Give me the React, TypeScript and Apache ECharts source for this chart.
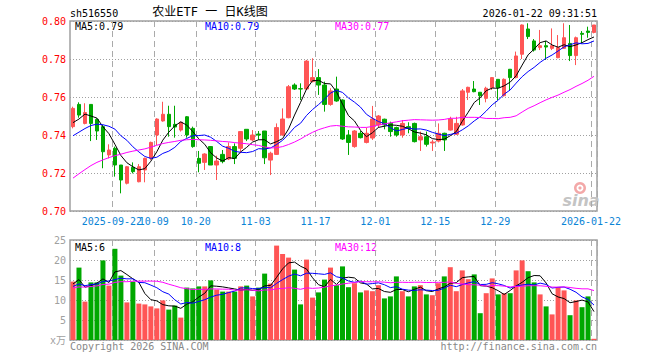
import React, { useEffect, useRef } from "react";
import * as echarts from "echarts";

// ---- data ----
const dates = [
  "2025-09-11","2025-09-12","2025-09-15","2025-09-16","2025-09-17","2025-09-18","2025-09-19",
  "2025-09-22","2025-09-23","2025-09-24","2025-09-25","2025-09-26","2025-09-29","2025-09-30",
  "2025-10-09","2025-10-10","2025-10-13","2025-10-14","2025-10-15","2025-10-16","2025-10-17",
  "2025-10-20","2025-10-21","2025-10-22","2025-10-23","2025-10-24","2025-10-27","2025-10-28",
  "2025-10-29","2025-10-30","2025-10-31",
  "2025-11-03","2025-11-04","2025-11-05","2025-11-06","2025-11-07","2025-11-10","2025-11-11",
  "2025-11-12","2025-11-13","2025-11-14","2025-11-17","2025-11-18","2025-11-19","2025-11-20",
  "2025-11-21","2025-11-24","2025-11-25","2025-11-26","2025-11-27","2025-11-28",
  "2025-12-01","2025-12-02","2025-12-03","2025-12-04","2025-12-05","2025-12-08","2025-12-09",
  "2025-12-10","2025-12-11","2025-12-12","2025-12-15","2025-12-16","2025-12-17","2025-12-18",
  "2025-12-19","2025-12-22","2025-12-23","2025-12-24","2025-12-25","2025-12-26","2025-12-29",
  "2025-12-30","2025-12-31",
  "2026-01-05","2026-01-06","2026-01-07","2026-01-08","2026-01-09","2026-01-12","2026-01-13",
  "2026-01-14","2026-01-15","2026-01-16","2026-01-19","2026-01-20","2026-01-21","2026-01-22",
];

const opens = [
  0.7444,0.7561,0.7461,0.7561,0.7482,0.7444,0.7295,0.7330,0.7242,0.7146,
  0.7230,0.7154,0.7216,0.7277,0.7400,0.7474,0.7509,0.7456,0.7426,0.7496,
  0.7435,0.7277,0.7256,0.7339,0.7242,0.7298,0.7274,0.7339,0.7330,0.7430,
  0.7374,0.7405,0.7421,0.7268,0.7298,0.7400,0.7491,0.7663,0.7644,0.7642,
  0.7681,0.7702,0.7663,0.7561,0.7642,0.7584,0.7400,0.7339,0.7409,0.7361,
  0.7384,0.7453,0.7483,0.7461,0.7439,0.7400,0.7444,0.7461,0.7374,0.7391,
  0.7358,0.7368,0.7409,0.7426,0.7404,0.7453,0.7625,0.7642,0.7625,0.7593,
  0.7649,0.7693,0.7607,0.7746,0.7702,0.7825,0.7958,0.7895,0.7860,0.7870,
  0.7856,0.7807,0.7856,0.7882,0.7818,0.7935,0.7947,0.7940,
];
const closes = [
  0.7540,0.7505,0.7518,0.7461,0.7421,0.7312,0.7321,0.7242,0.7163,0.7233,
  0.7207,0.7233,0.7277,0.7361,0.7484,0.7509,0.7444,0.7442,0.7467,0.7400,
  0.7339,0.7251,0.7300,0.7242,0.7263,0.7260,0.7339,0.7277,0.7418,0.7379,
  0.7400,0.7400,0.7280,0.7304,0.7439,0.7484,0.7654,0.7642,0.7642,0.7789,
  0.7702,0.7663,0.7561,0.7632,0.7579,0.7379,0.7361,0.7421,0.7386,0.7409,
  0.7484,0.7500,0.7453,0.7418,0.7400,0.7461,0.7435,0.7365,0.7391,0.7351,
  0.7363,0.7409,0.7374,0.7484,0.7461,0.7632,0.7651,0.7628,0.7607,0.7646,
  0.7702,0.7649,0.7693,0.7702,0.7816,0.7979,0.7918,0.7847,0.7870,0.7863,
  0.7870,0.7860,0.7912,0.7818,0.7912,0.7930,0.7940,0.7979,
];
const lows = [
  0.7435,0.7491,0.7456,0.7368,0.7374,0.7225,0.7277,0.7181,0.7093,0.7140,
  0.7198,0.7151,0.7151,0.7268,0.7347,0.7470,0.7391,0.7386,0.7418,0.7386,
  0.7333,0.7204,0.7216,0.7242,0.7163,0.7251,0.7268,0.7247,0.7304,0.7368,
  0.7368,0.7374,0.7247,0.7189,0.7295,0.7396,0.7488,0.7637,0.7584,0.7637,
  0.7677,0.7611,0.7523,0.7554,0.7575,0.7374,0.7295,0.7333,0.7382,0.7356,
  0.7374,0.7437,0.7430,0.7391,0.7391,0.7386,0.7409,0.7361,0.7316,0.7339,
  0.7316,0.7361,0.7316,0.7423,0.7400,0.7449,0.7584,0.7625,0.7558,0.7572,
  0.7637,0.7584,0.7602,0.7632,0.7698,0.7800,0.7905,0.7839,0.7847,0.7795,
  0.7847,0.7804,0.7853,0.7789,0.7768,0.7882,0.7912,0.7935,
];
const highs = [
  0.7549,0.7572,0.7567,0.7561,0.7488,0.7453,0.7351,0.7339,0.7242,0.7237,
  0.7256,0.7247,0.7281,0.7365,0.7488,0.7575,0.7554,0.7554,0.7470,0.7500,
  0.7444,0.7316,0.7304,0.7342,0.7291,0.7321,0.7361,0.7356,0.7421,0.7430,
  0.7426,0.7421,0.7421,0.7312,0.7461,0.7540,0.7663,0.7672,0.7672,0.7795,
  0.7804,0.7747,0.7681,0.7646,0.7707,0.7588,0.7426,0.7426,0.7421,0.7439,
  0.7553,0.7505,0.7486,0.7470,0.7444,0.7479,0.7467,0.7465,0.7418,0.7418,
  0.7374,0.7461,0.7412,0.7496,0.7496,0.7642,0.7654,0.7684,0.7625,0.7654,
  0.7705,0.7693,0.7698,0.7746,0.7839,0.7982,0.7988,0.7905,0.7953,0.7895,
  0.7961,0.7926,0.7988,0.7979,0.7918,0.7947,0.7970,0.7979,
];
// volume, in 万
const volumes = [
  14.6,18.1,9.6,14.4,14.4,19.9,13.6,22.8,16.1,9.4,
  14.6,9.1,8.9,8.4,7.9,9.9,7.6,8.6,5.6,13.1,
  12.9,13.4,13.4,14.9,12.6,12.1,12.1,12.1,13.4,13.6,
  10.9,13.1,16.6,14.1,23.6,21.5,20.6,17.6,8.9,20.1,
  10.6,11.9,15.1,18.1,13.7,18.4,13.2,14.2,11.9,12.4,
  12.2,13.7,10.4,10.9,15.9,12.2,10.9,13.4,13.7,11.4,
  11.2,14.2,15.9,18.2,12.2,17.4,15.2,16.4,6.7,11.7,
  15.4,11.4,11.7,11.7,17.4,19.9,17.2,14.4,11.4,8.4,
  6.4,13.2,12.4,6.2,9.9,8.2,10.9,0.3,
];
// estimated sessions before the visible window (only feed the moving averages)
const priorCloses = [
  0.683,0.685,0.684,0.690,0.693,0.695,0.694,0.692,0.696,0.702,
  0.705,0.708,0.710,0.718,0.724,0.727,0.728,0.730,0.731,0.729,
  0.731,0.733,0.730,0.735,0.734,0.741,0.739,0.7511,0.7476,
];
const priorVolumes = [
  10,11,9.5,10.5,9,11,10,10.5,9.8,10.7,
  8.5,9,8,8.9,18,22,21,19.5,20.1,19,
  12,14,11.5,13,13.5,12.6,19.1,12.7,11,
];

const tickIndices = [7, 14, 21, 31, 41, 51, 61, 71, 87];
const fullDateTicks = [7, 87];
const priceLegend = ["MA5:0.79", "MA10:0.79", "MA30:0.77"];
const volLegend = ["MA5:6", "MA10:8", "MA30:12"];
const maPeriods = [5, 10, 30];
const maColors = ["#000000", "#0000ff", "#ff00ff"];

const UP = "#ff5555";
const DOWN = "#00a800";
const MONO = "DejaVu Sans Mono, Noto Sans CJK SC";

function movingAverage(values: number[], prior: number[], n: number) {
  const all = prior.concat(values);
  const off = prior.length;
  return values.map((_, i) => {
    const end = off + i;
    const start = Math.max(0, end - n + 1);
    let s = 0;
    for (let k = start; k <= end; k++) s += all[k];
    return +(s / (end - start + 1)).toFixed(4);
  });
}

export default function App() {
  const ref = useRef<HTMLDivElement>(null);
  useEffect(() => {
    if (!ref.current) return;
    const chart = echarts.init(ref.current, null, { renderer: "svg" });
    const candles = dates.map((_, i) => [opens[i], closes[i], lows[i], highs[i]]);
    const volData = volumes.map((v, i) => ({
      value: v,
      itemStyle: { color: closes[i] >= opens[i] ? UP : DOWN },
    }));
    const isTick = (i: number) => tickIndices.includes(i);
    const splitLine = {
      show: true,
      interval: (i: number) => isTick(i),
      lineStyle: { color: "#aaaaaa", type: [6, 4], width: 1 },
    };
    const xBase = {
      type: "category",
      data: dates,
      boundaryGap: true,
      axisLine: { show: false },
      axisTick: { show: false },
      splitLine,
    };
    const labelStyle = {
      hideOverlap: false,
      formatter: (v: string, i: number) => (fullDateTicks.includes(i) ? v : v.slice(5)),
      color: "#0a84d6",
      fontFamily: MONO,
      fontSize: 10,
      margin: 5,
      padding: [0, 6, 0, 0],
    };
    const legendText = (labels: string[], y: number) =>
      labels.map((t, k) => ({
        type: "text",
        x: 75 + 130 * k,
        y,
        silent: true,
        style: {
          text: t,
          fill: maColors[k],
          fontSize: 10,
          fontFamily: MONO,
          textVerticalAlign: "middle",
        },
      }));

    const option: any = {
      animation: false,
      backgroundColor: "#ffffff",
      grid: [
        { left: 70, top: 21, width: 527, height: 190, show: true, borderColor: "#a0a0a0", borderWidth: 1.5 },
        { left: 70, top: 240, width: 527, height: 100, show: true, borderColor: "#a0a0a0", borderWidth: 1.5 },
      ],
      xAxis: [
        {
          ...xBase,
          gridIndex: 0,
          axisLabel: { ...labelStyle, interval: (i: number) => isTick(i) && i !== tickIndices[0] },
        },
        { ...xBase, gridIndex: 1, axisLabel: { show: false } },
        {
          ...xBase,
          gridIndex: 0,
          position: "bottom",
          splitLine: { show: false },
          axisLabel: { ...labelStyle, interval: (i: number) => i === tickIndices[0] },
        },
      ],
      yAxis: [
        {
          type: "value",
          gridIndex: 0,
          min: 0.7,
          max: 0.8,
          interval: 0.02,
          axisLine: { show: false },
          axisTick: { show: false },
          axisLabel: {
            color: "#ff0000",
            fontFamily: MONO,
            fontSize: 10,
            margin: 4,
            formatter: (v: number) => v.toFixed(2),
          },
          splitLine: { lineStyle: { color: "#a0a0a0", type: [1, 2], width: 1 } },
        },
        {
          type: "value",
          gridIndex: 1,
          min: 0,
          max: 25,
          interval: 5,
          axisLine: { show: false },
          axisTick: { show: false },
          axisLabel: {
            color: "#a0a0a0",
            fontFamily: MONO,
            fontSize: 10,
            margin: 4,
            formatter: (v: number) => (v === 0 ? "x万" : String(v)),
          },
          splitLine: { lineStyle: { color: "#a0a0a0", type: [1, 2], width: 1 } },
        },
      ],
      series: [
        {
          type: "candlestick",
          xAxisIndex: 0,
          yAxisIndex: 0,
          data: candles,
          barWidth: 4,
          silent: true,
          itemStyle: { color: UP, color0: DOWN, borderColor: UP, borderColor0: DOWN, borderWidth: 1 },
        },
        ...maPeriods.map((n, k) => ({
          type: "line",
          xAxisIndex: 0,
          yAxisIndex: 0,
          data: movingAverage(closes, priorCloses, n),
          showSymbol: false,
          silent: true,
          lineStyle: { color: maColors[k], width: 1 },
        })),
        {
          type: "bar",
          xAxisIndex: 1,
          yAxisIndex: 1,
          data: volData,
          barWidth: 5,
          silent: true,
        },
        ...maPeriods.map((n, k) => ({
          type: "line",
          xAxisIndex: 1,
          yAxisIndex: 1,
          data: movingAverage(volumes, priorVolumes, n),
          showSymbol: false,
          silent: true,
          lineStyle: { color: maColors[k], width: 1 },
        })),
      ],
      graphic: [
        { type: "text", x: 70, y: 13, silent: true, style: { text: "sh516550", fill: "#000", fontSize: 10, fontFamily: MONO, textVerticalAlign: "middle" } },
        { type: "text", x: 210, y: 12, silent: true, style: { text: "农业ETF 一 日K线图", fill: "#000", fontSize: 12, fontFamily: MONO, textAlign: "center", textVerticalAlign: "middle" } },
        { type: "text", x: 597, y: 13, silent: true, style: { text: "2026-01-22 09:31:51", fill: "#000", fontSize: 10, fontFamily: MONO, textAlign: "right", textVerticalAlign: "middle" } },
        ...legendText(priceLegend, 26),
        ...legendText(volLegend, 247),
        { type: "text", x: 70, y: 346, silent: true, style: { text: "Copyright 2026 SINA.COM", fill: "#888", fontSize: 10, fontFamily: MONO, textVerticalAlign: "middle" } },
        { type: "text", x: 597, y: 346, silent: true, style: { text: "http://finance.sina.com.cn", fill: "#888", fontSize: 10, fontFamily: MONO, textAlign: "right", textVerticalAlign: "middle" } },
        { type: "ring", silent: true, shape: { cx: 580, cy: 188, r: 6, r0: 3.5 }, style: { fill: "#f3a8a8" } },
        { type: "circle", silent: true, shape: { cx: 580, cy: 188, r: 1.6 }, style: { fill: "#f3a8a8" } },
        { type: "text", x: 581, y: 200, silent: true, style: { text: "sina", fill: "#c4c4c4", fontSize: 16, fontStyle: "italic", fontWeight: "bold", fontFamily: "DejaVu Sans", textAlign: "center", textVerticalAlign: "middle" } },
      ],
    };
    chart.setOption(option);
    return () => chart.dispose();
  }, []);
  return (
    <div
      ref={ref}
      style={{ position: "absolute", left: 0, top: 0, width: 660, height: 360 }}
    />
  );
}
